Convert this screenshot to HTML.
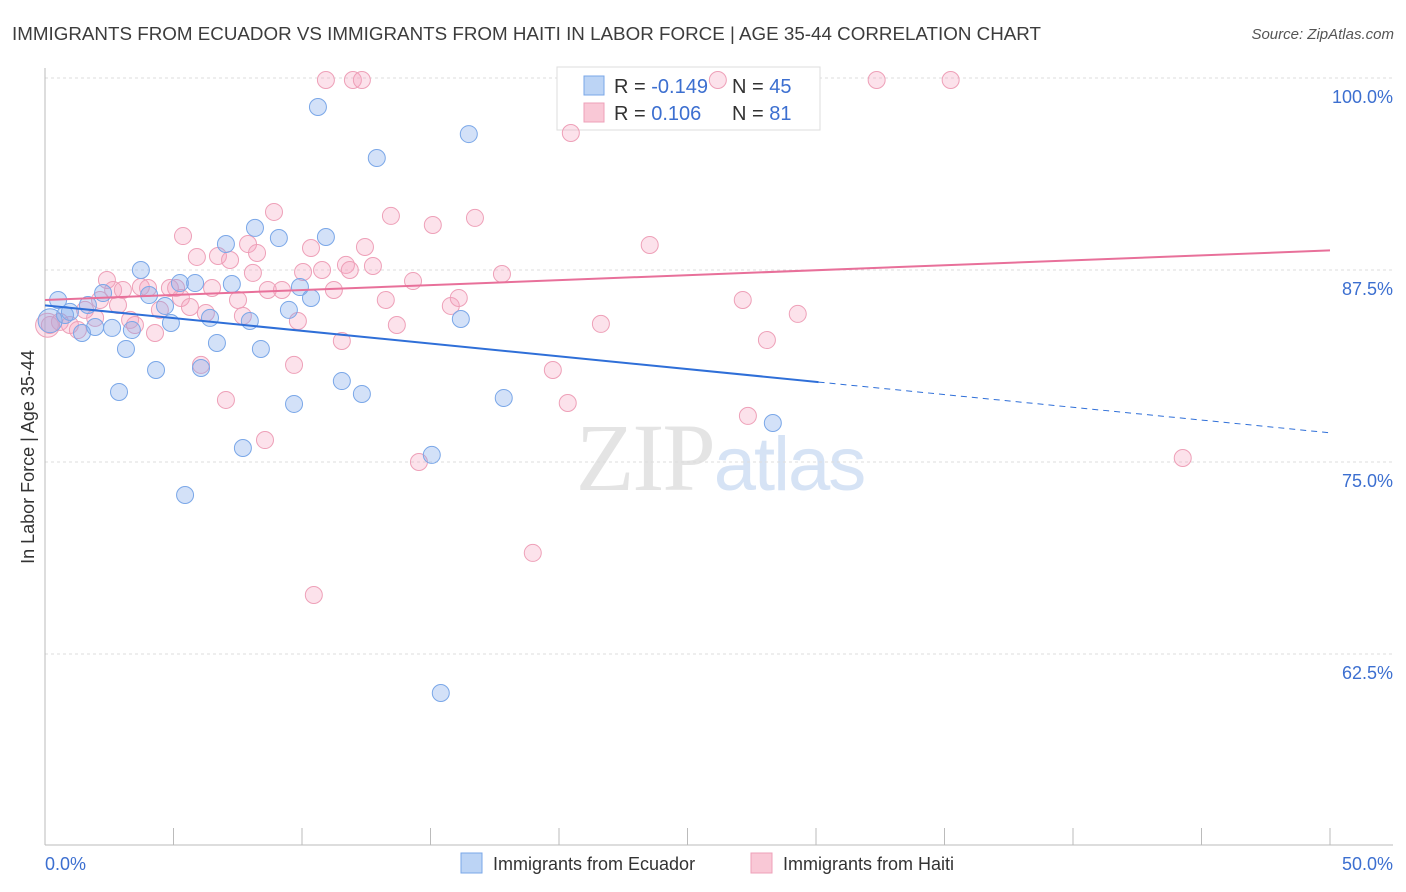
<!DOCTYPE html>
<html><head><meta charset="utf-8"><style>
body{margin:0;background:#fff;font-family:"Liberation Sans",sans-serif;}
</style></head><body>
<svg id="chart" width="1406" height="892" xmlns="http://www.w3.org/2000/svg" style="display:block">
<text x="12" y="40" font-size="18" fill="#3c3c3c" textLength="1029" lengthAdjust="spacingAndGlyphs">IMMIGRANTS FROM ECUADOR VS IMMIGRANTS FROM HAITI IN LABOR FORCE | AGE 35-44 CORRELATION CHART</text>
<text x="1394" y="39" font-size="15" fill="#555" text-anchor="end" font-style="italic">Source: ZipAtlas.com</text>
<text x="720" y="490" font-size="96" text-anchor="middle" fill="#e4e4e4" font-family="Liberation Serif,serif" letter-spacing="-2">ZIP<tspan fill="#d6e3f5" font-family="Liberation Sans,sans-serif" font-size="76">atlas</tspan></text>
<g id="grid"></g><g id="axes"></g>
<g>
<rect x="557" y="67" width="263" height="63" fill="#fff" stroke="#ddd"/>
<rect x="584" y="76" width="20" height="19" fill="#bcd4f5" stroke="#7aa7e8"/>
<rect x="584" y="103" width="20" height="19" fill="#f9c8d6" stroke="#eea0b8"/>
<text x="614" y="93" font-size="20" fill="#333">R = <tspan fill="#3c6fd0">-0.149</tspan></text>
<text x="732" y="93" font-size="20" fill="#333">N = <tspan fill="#3c6fd0">45</tspan></text>
<text x="614" y="120" font-size="20" fill="#333">R = <tspan fill="#3c6fd0"> 0.106</tspan></text>
<text x="732" y="120" font-size="20" fill="#333">N = <tspan fill="#3c6fd0"> 81</tspan></text>
</g>
<g id="marks"></g><g id="lines"></g>
<text transform="translate(34,457) rotate(-90)" font-size="18" fill="#333" text-anchor="middle">In Labor Force | Age 35-44</text>
<g>
<rect x="461" y="853" width="21" height="20" fill="#bcd4f5" stroke="#7aa7e8"/>
<text x="493" y="870" font-size="18" fill="#333">Immigrants from Ecuador</text>
<rect x="751" y="853" width="21" height="20" fill="#f9c8d6" stroke="#eea0b8"/>
<text x="783" y="870" font-size="18" fill="#333">Immigrants from Haiti</text>
</g>
</svg>
<script>
const blueX=[0.51,0.78,0.97,1.44,1.67,1.95,2.26,2.61,2.88,3.15,3.38,3.73,4.05,4.32,4.67,4.90,5.25,5.45,5.84,6.07,6.42,6.69,7.04,7.27,7.70,7.97,8.17,8.40,9.10,9.49,9.69,9.92,10.35,10.62,10.93,11.55,12.33,12.91,15.05,15.40,16.18,16.49,17.85,28.32,0.2];
const blueY=[85.55,84.57,84.77,83.40,85.22,83.79,86.00,83.73,79.56,82.36,83.59,87.50,85.87,80.99,85.16,84.05,86.65,72.85,86.65,81.12,84.38,82.75,89.19,86.59,75.91,84.18,90.24,82.36,89.58,84.90,78.78,86.39,85.68,98.11,89.65,80.27,79.43,94.79,75.46,59.96,84.31,96.35,79.17,77.54,84.2];
const pinkX=[0.19,0.58,0.97,1.28,1.56,1.95,2.14,2.41,2.65,2.84,3.03,3.31,3.50,3.73,4.01,4.28,4.47,4.86,5.10,5.29,5.37,5.64,5.91,6.07,6.26,6.50,6.73,7.04,7.20,7.51,7.70,7.90,8.09,8.25,8.56,8.67,8.91,9.22,9.69,9.84,10.04,10.35,10.46,10.78,10.93,11.24,11.55,11.71,11.86,11.98,12.33,12.45,12.76,13.26,13.46,13.69,14.32,14.55,15.09,15.79,16.10,16.73,17.78,18.98,19.76,20.34,20.46,21.63,23.53,26.18,27.15,27.35,28.09,29.29,32.36,35.24,44.27,0.1];
const pinkY=[83.92,84.12,83.92,83.59,84.90,84.38,85.55,86.85,86.20,85.22,86.20,84.25,83.92,86.39,86.33,83.40,84.90,86.33,86.33,85.68,89.71,85.09,88.35,81.32,84.70,86.33,88.41,79.04,88.15,85.55,84.51,89.19,87.31,88.61,76.43,86.20,91.28,86.20,81.32,84.18,87.37,88.93,66.34,87.50,99.87,86.20,82.88,87.83,87.50,99.87,99.87,89.00,87.76,85.55,91.02,83.92,86.78,75.00,90.43,85.16,85.68,90.89,87.24,69.08,80.99,78.84,96.42,83.99,89.13,99.87,85.55,78.00,82.94,84.64,99.87,99.87,75.26,83.9];
const yTicks=[100,87.5,75,62.5];
const yTickLabels=["100.0%","87.5%","75.0%","62.5%"];
const blueTrend=[85.2,-0.166];
const pinkTrend=[85.55,0.0645];
const NS="http://www.w3.org/2000/svg";
const X=v=>45+v/50*1285, Y=v=>78+(100-v)*15.36;
function mk(tag,attrs,parent){const e=document.createElementNS(NS,tag);for(const k in attrs)e.setAttribute(k,attrs[k]);document.getElementById(parent).appendChild(e);return e;}
yTicks.forEach((t,i)=>{
 const g=mk('line',{x1:45,x2:1393,y1:Y(t),y2:Y(t),stroke:'#ddd','stroke-dasharray':'3,3'},'grid');
 
 
 const l=mk('text',{x:1393,y:Y(t)+25,'font-size':18,fill:'#3c6fd0','text-anchor':'end'},'axes');
 l.textContent=yTickLabels[i];
 
 
});
mk('line',{x1:45,x2:45,y1:68,y2:845,stroke:'#bbb'},'axes');
mk('line',{x1:45,x2:1393,y1:845,y2:845,stroke:'#bbb'},'axes');
for(let i=0;i<=10;i++){mk('line',{x1:X(i*5),x2:X(i*5),y1:828,y2:845,stroke:'#bbb'},'axes');}
const xl0=mk('text',{x:45,y:870,'font-size':18,fill:'#3c6fd0'},'axes');xl0.textContent='0.0%';


const xl1=mk('text',{x:1393,y:870,'font-size':18,fill:'#3c6fd0','text-anchor':'end'},'axes');xl1.textContent='50.0%';


pinkX.forEach((x,i)=>{const c=mk('circle',{cx:X(x),cy:Y(pinkY[i]),r:i==pinkX.length-1?12:8.5,fill:'rgba(244,160,190,0.3)',stroke:'#eea0b8','stroke-width':1},'marks');
 
 });
blueX.forEach((x,i)=>{const c=mk('circle',{cx:X(x),cy:Y(blueY[i]),r:i==blueX.length-1?12:8.5,fill:'rgba(130,170,235,0.35)',stroke:'#7aa7e8','stroke-width':1},'marks');
 
 });
const bEnd=30.1;
const b1=mk('line',{x1:X(0),y1:Y(blueTrend[0]),x2:X(bEnd),y2:Y(blueTrend[0]+blueTrend[1]*bEnd),stroke:'#2f6fd8','stroke-width':2},'lines');


const b2=mk('line',{x1:X(bEnd),y1:Y(blueTrend[0]+blueTrend[1]*bEnd),x2:X(50),y2:Y(blueTrend[0]+blueTrend[1]*50),stroke:'#2f6fd8','stroke-width':1,'stroke-dasharray':'6,5'},'lines');


const p1=mk('line',{x1:X(0),y1:Y(pinkTrend[0]),x2:X(50),y2:Y(pinkTrend[0]+pinkTrend[1]*50),stroke:'#e8709a','stroke-width':2},'lines');


</script>
</body></html>
